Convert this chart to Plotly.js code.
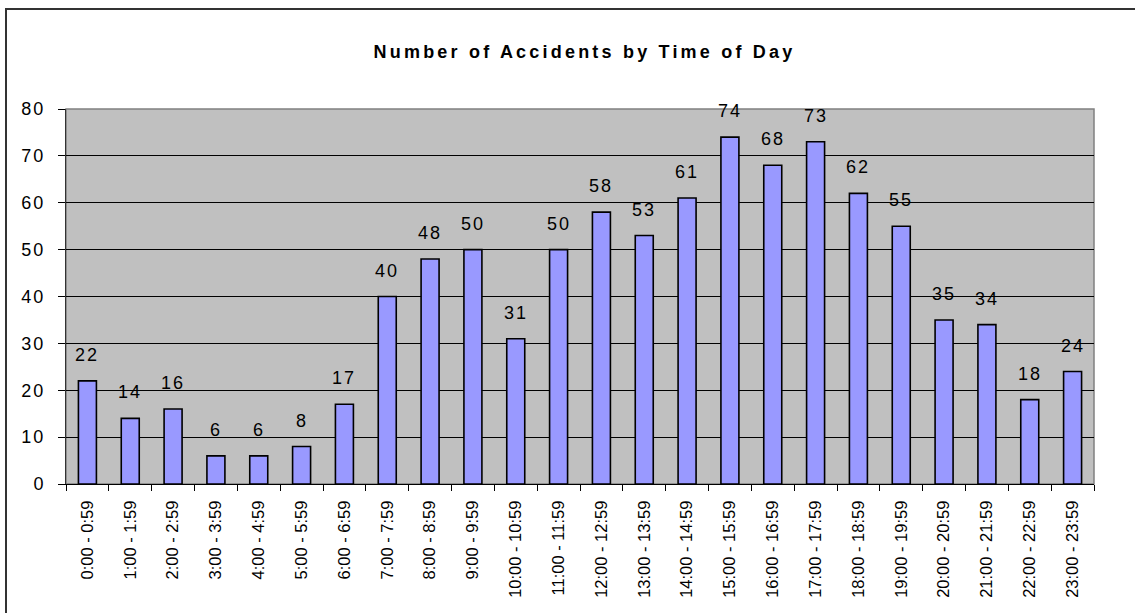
<!DOCTYPE html>
<html>
<head>
<meta charset="utf-8">
<script src="https://cdn.plot.ly/plotly-3.0.1.min.js"></script>
<style>
body{margin:0;background:#fff;}
#wrap{position:relative;width:1135px;height:613px;overflow:hidden;}
#chart{width:1135px;height:613px;}
#frame{position:absolute;left:5px;top:8px;width:1200px;height:700px;border:2px solid #333;pointer-events:none;}
.gtitle{letter-spacing:3.2px;}
.ytick text,.annotation-text{letter-spacing:2px;}
</style>
</head>
<body>
<div id="wrap">
<div id="chart"></div>
<div id="frame"></div>
</div>
<script>
// time slots
let slots=["0:00 - 0:59","1:00 - 1:59","2:00 - 2:59","3:00 - 3:59","4:00 - 4:59","5:00 - 5:59",
"6:00 - 6:59","7:00 - 7:59","8:00 - 8:59","9:00 - 9:59","10:00 - 10:59","11:00 - 11:59",
"12:00 - 12:59","13:00 - 13:59","14:00 - 14:59","15:00 - 15:59","16:00 - 16:59","17:00 - 17:59",
"18:00 - 18:59","19:00 - 19:59","20:00 - 20:59","21:00 - 21:59","22:00 - 22:59","23:00 - 23:59"];

let accidents=[22,14,16,6,6,8,17,40,48,50,31,50,58,53,61,74,68,73,62,55,35,34,18,24];

let yTicks=[0,10,20,30,40,50,60,70,80];

let labels=slots.map((s,i)=>({
x:s,
y:accidents[i],
text:String(accidents[i]),
showarrow:false,
yanchor:"bottom",
yshift:14,
font:{family:"Liberation Sans, Arial",size:18,color:"#000"}
}));

Plotly.newPlot("chart",[
{
x:slots,
y:accidents,
type:"bar",
marker:{color:"#9999FF",line:{color:"#000",width:1.6}},
hoverinfo:"x+y"
}
],{
width:1135,
height:613,
margin:{l:66,r:41,t:109,b:129},
paper_bgcolor:"#fff",
plot_bgcolor:"#C0C0C0",
bargap:0.58,
showlegend:false,
font:{family:"Liberation Sans, Arial",color:"#000"},
title:{
text:"<b>Number of Accidents by Time of Day</b>",
font:{size:18,family:"Liberation Sans, Arial"},
x:0.515,xanchor:"center",
y:0.915,yanchor:"middle"
},
xaxis:{
type:"category",
tickangle:-90,
tickfont:{size:16.5},
ticks:"outside",
tickson:"boundaries",
ticklen:6,
tickcolor:"#000",
showline:true,
linecolor:"#000",
linewidth:1,
showgrid:false,
ticklabelstandoff:9
},
yaxis:{
range:[0,80],
tickvals:yTicks,
tickfont:{size:18},
ticks:"outside",
ticklen:7,
tickcolor:"#000",
showline:true,
linecolor:"#333",
linewidth:1,
gridcolor:"#000",
gridwidth:1,
zeroline:false,
ticklabelstandoff:9
},
shapes:[
{type:"rect",xref:"paper",yref:"paper",x0:0,x1:1,y0:0,y1:1,
line:{color:"#808080",width:1.5},fillcolor:"rgba(0,0,0,0)",layer:"below"}
],
annotations:labels
},{displayModeBar:false});
</script>
</body>
</html>
